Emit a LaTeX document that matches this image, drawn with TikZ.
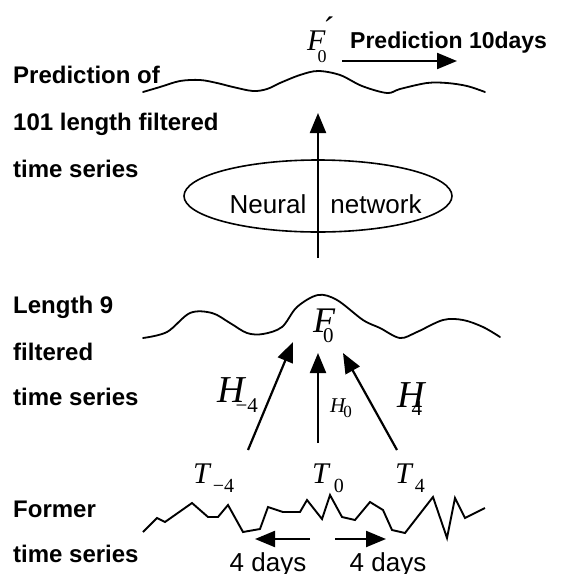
\documentclass[tikz,border=0pt]{standalone}
\usepackage{fontspec}
\setmainfont{Liberation Sans}
\newfontfamily\serif{Liberation Serif}
\usetikzlibrary{arrows.meta,shapes.geometric}
\newcommand\fs[1]{\fontsize{#1}{#1}\selectfont}
\newcommand\msub[6]{{\serif\fs{#2}\itshape #1}\kern#3pt\raisebox{-#4pt}{\serif\fs{#6}#5}}
\begin{document}
\begin{tikzpicture}[x=1pt,y=-1pt,
  lab/.style={anchor=base west, inner sep=0, font=\bfseries\fs{24}},
  plab/.style={anchor=base, inner sep=0, font=\fs{26}},
  mlab/.style={anchor=base west, inner sep=0},
  arr/.style={line width=2.2pt, -{Triangle[length=20pt,width=16pt]}},
  curve/.style={line width=1.8pt, line join=round, line cap=round}]
\useasboundingbox (0,0) rectangle (561,574);
% left labels
\node[lab] (l1) at (13,83) {Prediction of};
\node[lab] (l2) at (13,130) {101 length filtered};
\node[lab] (l3) at (13,177) {time series};
\node[lab] (l4) at (13,313) {Length 9};
\node[lab] (l5) at (13,360) {filtered};
\node[lab] (l6) at (13,405) {time series};
\node[lab] (l7) at (13,517) {Former};
\node[lab] (l8) at (13,562) {time series};
% top
\node[lab, font=\bfseries\fs{23}] (pred) at (350,48) {Prediction 10days};
\node[mlab] (fp) at (307,50) {\msub{F}{30}{-8}{12}{0}{18}};
\node[inner sep=0] (prime) at (329,29) {\serif\fs{34}´};
\draw[curve] plot[smooth, tension=0.55] coordinates {(143,92) (160,87) (180,81) (200,80) (217,83) (233,87) (253,91) (267,89) (280,83) (300,75) (318,71) (340,75) (362,86) (387,93) (400,89) (427,83) (447,83) (467,86) (485,92)};
\coordinate (pa0) at (342,61);
\coordinate (pa1) at (457,61);
\draw[arr] (pa0) -- (pa1);
% neural network
\node[draw, ellipse, line width=1.6pt, minimum width=268pt, minimum height=72pt, inner sep=0] (nn) at (318,196) {};
\node[plab] (nt1) at (268,213) {Neural};
\node[plab] (nt2) at (376,213) {network};
\coordinate (up0) at (318,258);
\coordinate (up1) at (318,113);
\draw[arr] (up0) -- (up1);
% middle
\draw[curve] plot[smooth, tension=0.55] coordinates {(143,338) (167,332) (190,313) (212,313) (230,323) (247,333) (263,334) (282,327) (297,307) (318,295) (337,300) (363,320) (380,328) (400,338) (417,332) (443,320) (463,320) (483,327) (500,337)};
\node[mlab] (f0) at (313,332) {\msub{F}{36}{-12}{10}{0}{21}};
\coordinate (hl0) at (248,450);
\coordinate (hl1) at (293,342);
\coordinate (hc0) at (318,443);
\coordinate (hc1) at (318,353);
\coordinate (hr0) at (397,450);
\coordinate (hr1) at (343,353);
\draw[arr] (hl0) -- (hl1);
\draw[arr] (hc0) -- (hc1);
\draw[arr] (hr0) -- (hr1);
\node[mlab] (h1) at (217,402) {\msub{H}{38}{-9}{10}{−4}{21}};
\node[mlab] (h2) at (330,412) {\msub{H}{21}{-2}{5}{0}{17}};
\node[mlab] (h3) at (397,407) {\msub{H}{38}{-13}{8}{4}{21}};
% bottom
\node[mlab] (t1) at (193,483) {\msub{T}{30}{3}{9}{−4}{20}};
\node[mlab] (t2) at (312,483) {\msub{T}{30}{5}{9}{0}{20}};
\node[mlab] (t3) at (395,483) {\msub{T}{30}{3}{9}{4}{20}};
\draw[line width=1.9pt, line join=miter] plot coordinates {(143,532) (157,518) (165,522) (192,503) (208,517) (218,517) (228,505) (243,532) (260,529) (268,507) (283,512) (300,512) (307,500) (322,519) (330,495) (342,517) (355,520) (370,502) (383,510) (392,530) (405,533) (433,497) (447,538) (455,498) (465,518) (485,508)};
\coordinate (dl0) at (310,539);
\coordinate (dl1) at (255,539);
\coordinate (dr0) at (335,539);
\coordinate (dr1) at (386,539);
\draw[arr] (dl0) -- (dl1);
\draw[arr] (dr0) -- (dr1);
\node[plab] (d1) at (268,571) {4 days};
\node[plab] (d2) at (388,571) {4 days};
\end{tikzpicture}
\end{document}
